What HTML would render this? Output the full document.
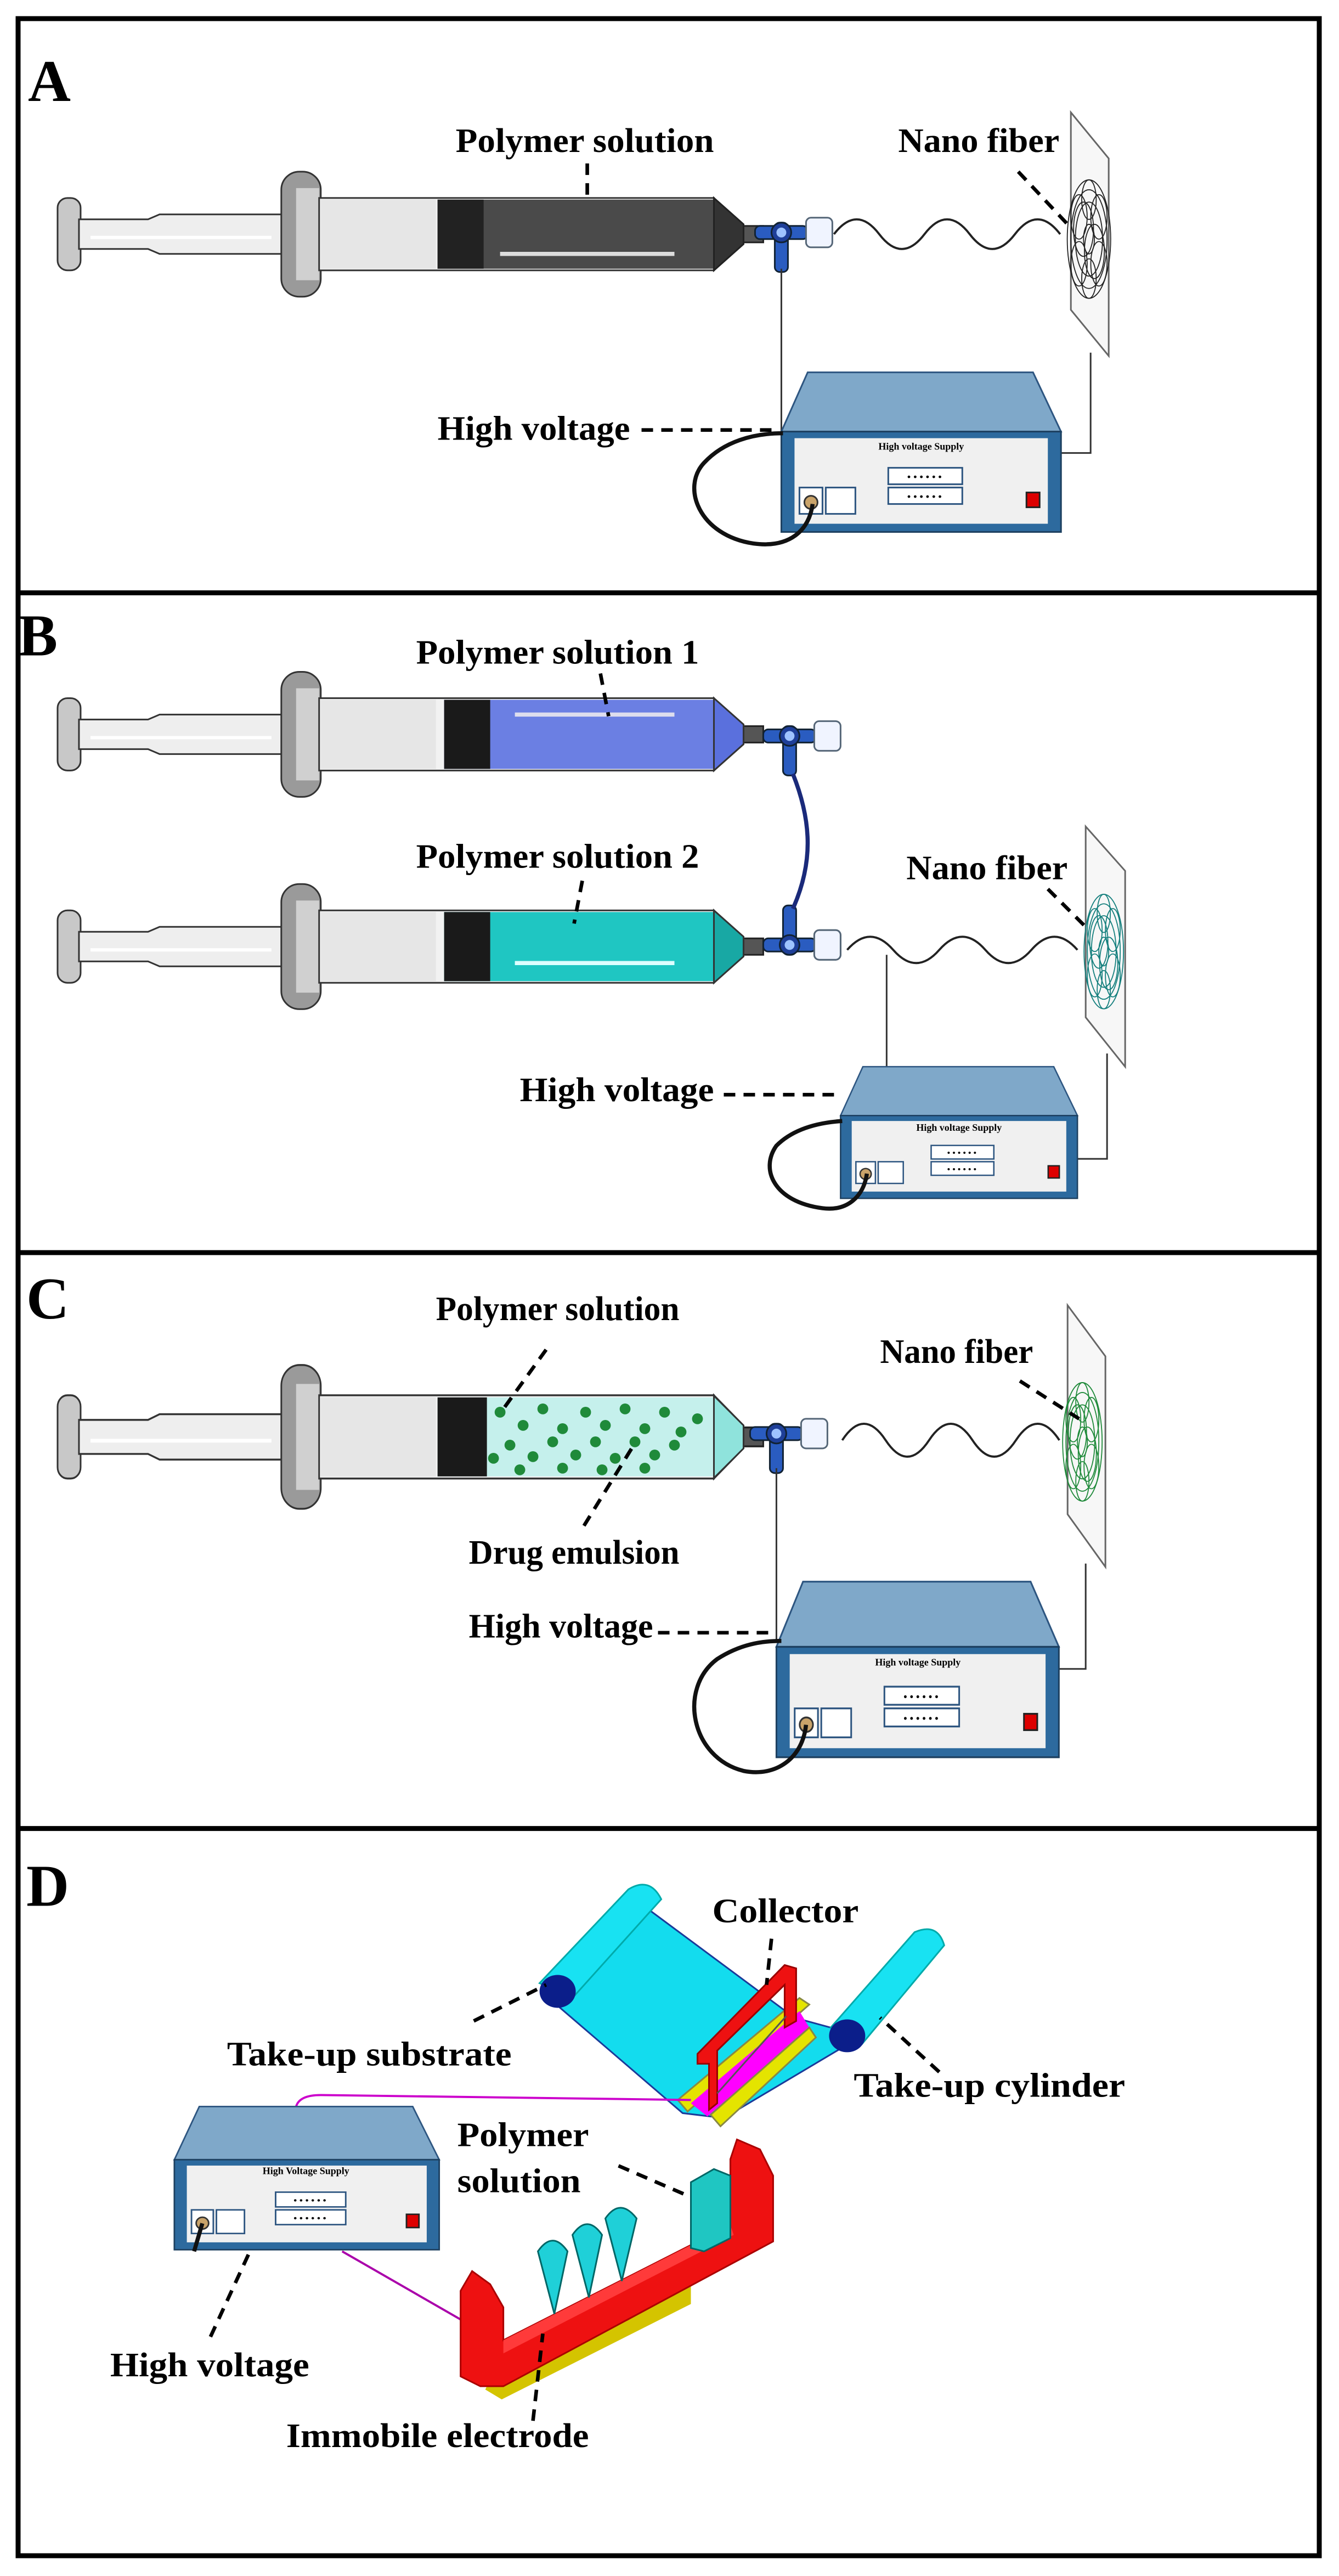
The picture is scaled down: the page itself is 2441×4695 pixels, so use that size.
<!DOCTYPE html>
<html><head><meta charset="utf-8">
<style>
html,body{margin:0;padding:0;background:#fff;}
svg{display:block;}
.l{font-family:"Liberation Serif",serif;font-weight:bold;font-size:21px;fill:#000;}
.p{font-family:"Liberation Serif",serif;font-weight:bold;font-size:36px;fill:#000;}
.s{font-family:"Liberation Serif",serif;font-weight:bold;font-size:6px;fill:#000;}
.d{stroke:#000;stroke-width:2.2;stroke-dasharray:7,5;fill:none;}
.w{fill:none;stroke:#333;stroke-width:1;}
</style></head><body>
<svg width="2441" height="4695" viewBox="0 0 814 1565" xmlns="http://www.w3.org/2000/svg">
<defs>
<g id="syr">
  <rect x="35" y="-22" width="14" height="44" rx="6" fill="#c8c8c8" stroke="#333"/>
  <path d="M48,-9 L90,-9 L97,-12 L174,-12 L174,12 L97,12 L90,9 L48,9 Z" fill="#eee" stroke="#333"/>
  <line x1="55" y1="2" x2="165" y2="2" stroke="#fff" stroke-width="2"/>
  <rect x="171" y="-38" width="24" height="76" rx="11" fill="#9a9a9a" stroke="#333"/>
  <rect x="180" y="-28" width="14" height="56" fill="#d0d0d0"/>
  <rect x="194" y="-22" width="240" height="44" fill="#f2f2f2" stroke="#333"/>
  <rect x="195" y="-21" width="70" height="42" fill="#e6e6e6"/>
  <path d="M434,-22 L452,-6 L452,6 L434,22 Z" fill="#eee" stroke="#333"/>
  <rect x="452" y="-5" width="12" height="10" fill="#555" stroke="#222"/>
</g>
<g id="conn">
  <rect x="-16" y="-4" width="32" height="8" rx="3" fill="#2a5cc0" stroke="#123"/>
  <rect x="-4" y="-6" width="8" height="30" rx="3" fill="#2a5cc0" stroke="#123"/>
  <circle cx="0" cy="0" r="6" fill="#1e3f99" stroke="#123"/>
  <circle cx="0" cy="0" r="3" fill="#9ec3ff"/>
  <rect x="15" y="-9" width="16" height="18" rx="3" fill="#f0f4ff" stroke="#567"/>
</g>
<g id="ps">
  <path d="M16,0 L153,0 L170,36 L0,36 Z" fill="#7fa8c9" stroke="#2d5580"/>
  <rect x="0" y="36" width="170" height="61" fill="#2d6a9e" stroke="#1d4060"/>
  <rect x="8" y="40" width="154" height="52" fill="#f0f0f0"/>
  <rect x="65" y="58" width="45" height="10" fill="#fff" stroke="#2d5580"/>
  <rect x="65" y="70" width="45" height="10" fill="#fff" stroke="#2d5580"/>
  <text x="87" y="65.5" text-anchor="middle" font-size="6" font-family="Liberation Sans,sans-serif">• • • • • •</text>
  <text x="87" y="77.5" text-anchor="middle" font-size="6" font-family="Liberation Sans,sans-serif">• • • • • •</text>
  <rect x="149" y="73" width="8" height="9" fill="#d00" stroke="#222"/>
  <rect x="11" y="70" width="14" height="16" fill="#fff" stroke="#2d5580"/>
  <rect x="27" y="70" width="18" height="16" fill="#fff" stroke="#2d5580"/>
  <circle cx="18" cy="79" r="4" fill="#c9a36a" stroke="#333"/>
</g>
<g id="mesh" fill="none" stroke-width="1.8">
  <circle r="24" vector-effect="non-scaling-stroke"/><circle r="15" vector-effect="non-scaling-stroke"/>
  <circle cx="-11" cy="-9" r="9" vector-effect="non-scaling-stroke"/><circle cx="11" cy="-9" r="9" vector-effect="non-scaling-stroke"/><circle cx="-11" cy="10" r="9" vector-effect="non-scaling-stroke"/><circle cx="11" cy="10" r="9" vector-effect="non-scaling-stroke"/><circle cx="0" cy="-16" r="8" vector-effect="non-scaling-stroke"/><circle cx="0" cy="16" r="8" vector-effect="non-scaling-stroke"/><circle r="6" vector-effect="non-scaling-stroke"/>
  <circle cx="-6" cy="-4" r="11" vector-effect="non-scaling-stroke"/><circle cx="6" cy="5" r="11" vector-effect="non-scaling-stroke"/><circle cx="0" cy="0" r="20" vector-effect="non-scaling-stroke"/>
</g>
</defs>

<!-- frames -->
<rect x="11" y="11" width="791" height="1542" fill="none" stroke="#000" stroke-width="3"/>
<line x1="11" y1="360" x2="802" y2="360" stroke="#000" stroke-width="3"/>
<line x1="11" y1="761" x2="802" y2="761" stroke="#000" stroke-width="3"/>
<line x1="11" y1="1111" x2="802" y2="1111" stroke="#000" stroke-width="3"/>

<!-- ===== A ===== -->
<text class="p" x="17" y="61">A</text>
<use href="#syr" transform="translate(0,142)"/>
<rect x="266" y="121" width="168" height="42" fill="#4a4a4a"/>
<rect x="266" y="121" width="28" height="42" fill="#222"/>
<path d="M434,120 L452,136 L452,148 L434,164 Z" fill="#333" stroke="#222"/>
<line x1="304" y1="154" x2="410" y2="154" stroke="#ddd" stroke-width="2.5"/>
<use href="#conn" transform="translate(475,141)"/>
<path d="M507,142 q13.75,-18 27.5,0 t27.5,0 t27.5,0 t27.5,0 t27.5,0" fill="none" stroke="#222" stroke-width="1.3"/>
<polygon points="651,68 674,96 674,216 651,188" fill="#f7f7f7" stroke="#666"/>
<use href="#mesh" transform="translate(662,145) scale(0.55,1.5)" stroke="#222"/>
<polyline class="w" points="475,163 475,262"/>
<polyline class="w" points="663,214 663,275 645,275"/>
<use href="#ps" transform="translate(475,226)"/>
<text class="s" x="560" y="273" text-anchor="middle">High voltage Supply</text>
<path d="M494,306 C492,322 480,333 458,330 C425,325 414,296 428,281 C440,268 458,263 476,263" fill="none" stroke="#111" stroke-width="2.5"/>
<text class="l" x="277" y="92" textLength="157" lengthAdjust="spacingAndGlyphs">Polymer solution</text>
<line class="d" x1="357" y1="99" x2="357" y2="123"/>
<text class="l" x="546" y="92" textLength="98" lengthAdjust="spacingAndGlyphs">Nano fiber</text>
<line class="d" x1="619" y1="104" x2="649" y2="136"/>
<text class="l" x="266" y="267" textLength="117" lengthAdjust="spacingAndGlyphs">High voltage</text>
<line class="d" x1="390" y1="261" x2="473" y2="261"/>

<!-- ===== B ===== -->
<text class="p" x="11" y="398">B</text>
<use href="#syr" transform="translate(0,446)"/>
<rect x="270" y="425" width="164" height="42" fill="#6b7fe3"/>
<rect x="270" y="425" width="28" height="42" fill="#1a1a1a"/>
<path d="M434,424 L452,440 L452,452 L434,468 Z" fill="#5a70dd" stroke="#333"/>
<line x1="313" y1="434" x2="410" y2="434" stroke="#dde" stroke-width="2.5"/>
<use href="#conn" transform="translate(480,447)"/>
<use href="#syr" transform="translate(0,575)"/>
<rect x="270" y="554" width="164" height="42" fill="#1fc6c2"/>
<rect x="270" y="554" width="28" height="42" fill="#1a1a1a"/>
<path d="M434,553 L452,569 L452,581 L434,597 Z" fill="#18a8a4" stroke="#333"/>
<line x1="313" y1="585" x2="410" y2="585" stroke="#dff" stroke-width="2.5"/>
<use href="#conn" transform="translate(480,574) scale(1,-1)"/>
<rect x="495" y="565" width="16" height="18" rx="3" fill="#f0f4ff" stroke="#567"/>
<path d="M482,470 C494,500 494,525 482,552" fill="none" stroke="#1a2a7a" stroke-width="2.5"/>
<path d="M515,577 q14,-16 28,0 t28,0 t28,0 t28,0 t28,0" fill="none" stroke="#222" stroke-width="1.3"/>
<polygon points="660,502 684,529 684,648 660,618" fill="#f7f7f7" stroke="#666"/>
<use href="#mesh" transform="translate(671,578) scale(0.5,1.45)" stroke="#147f7d"/>
<polyline class="w" points="539,580 539,650"/>
<polyline class="w" points="673,640 673,704 655,704"/>
<use href="#ps" transform="translate(511,648) scale(0.847,0.825)"/>
<text class="s" x="583" y="687" text-anchor="middle">High voltage Supply</text>
<path d="M527,713 C525,727 515,736 500,734 C470,730 462,710 472,696 C482,686 497,682 512,681" fill="none" stroke="#111" stroke-width="2.5"/>
<text class="l" x="253" y="403" textLength="172" lengthAdjust="spacingAndGlyphs">Polymer solution 1</text>
<line class="d" x1="365" y1="409" x2="370" y2="435"/>
<text class="l" x="253" y="527" textLength="172" lengthAdjust="spacingAndGlyphs">Polymer solution 2</text>
<line class="d" x1="354" y1="535" x2="349" y2="561"/>
<text class="l" x="551" y="534" textLength="98" lengthAdjust="spacingAndGlyphs">Nano fiber</text>
<line class="d" x1="637" y1="540" x2="660" y2="563"/>
<text class="l" x="316" y="669" textLength="118" lengthAdjust="spacingAndGlyphs">High voltage</text>
<line class="d" x1="440" y1="665" x2="508" y2="665"/>

<!-- ===== C ===== -->
<text class="p" x="16" y="801">C</text>
<use href="#syr" transform="translate(0,873) scale(1,1.15)"/>
<rect x="266" y="849" width="168" height="48" fill="#c5f0ec"/>
<rect x="266" y="849" width="30" height="48" fill="#1a1a1a"/>
<path d="M434,848 L452,866 L452,880 L434,898 Z" fill="#8fe3dc" stroke="#333"/>
<g fill="#1f8a3a">
<circle cx="304" cy="858" r="3.3"/><circle cx="318" cy="866" r="3.3"/><circle cx="330" cy="856" r="3.3"/><circle cx="342" cy="868" r="3.3"/><circle cx="356" cy="858" r="3.3"/><circle cx="368" cy="866" r="3.3"/><circle cx="380" cy="856" r="3.3"/><circle cx="392" cy="868" r="3.3"/><circle cx="404" cy="858" r="3.3"/><circle cx="414" cy="870" r="3.3"/>
<circle cx="310" cy="878" r="3.3"/><circle cx="324" cy="885" r="3.3"/><circle cx="336" cy="876" r="3.3"/><circle cx="350" cy="884" r="3.3"/><circle cx="362" cy="876" r="3.3"/><circle cx="374" cy="886" r="3.3"/><circle cx="386" cy="876" r="3.3"/><circle cx="398" cy="884" r="3.3"/><circle cx="410" cy="878" r="3.3"/>
<circle cx="316" cy="893" r="3.3"/><circle cx="342" cy="892" r="3.3"/><circle cx="366" cy="893" r="3.3"/><circle cx="392" cy="892" r="3.3"/><circle cx="300" cy="886" r="3.3"/><circle cx="424" cy="862" r="3.3"/>
</g>
<use href="#conn" transform="translate(472,871)"/>
<path d="M512,875 q13.2,-20 26.4,0 t26.4,0 t26.4,0 t26.4,0 t26.4,0" fill="none" stroke="#222" stroke-width="1.3"/>
<polygon points="649,793 672,824 672,952 649,920" fill="#f7f7f7" stroke="#666"/>
<use href="#mesh" transform="translate(658,876) scale(0.5,1.5)" stroke="#1f8a3a"/>
<polyline class="w" points="472,892 472,998"/>
<polyline class="w" points="660,950 660,1014 644,1014"/>
<use href="#ps" transform="translate(472,961) scale(1.01,1.1)"/>
<text class="s" x="558" y="1012" text-anchor="middle">High voltage Supply</text>
<path d="M490,1048 C488,1068 472,1080 452,1076 C420,1068 412,1026 436,1008 C450,999 463,997 475,997" fill="none" stroke="#111" stroke-width="2.5"/>
<text class="l" x="265" y="802" textLength="148" lengthAdjust="spacingAndGlyphs">Polymer solution</text>
<line class="d" x1="332" y1="820" x2="306" y2="856"/>
<text class="l" x="535" y="828" textLength="93" lengthAdjust="spacingAndGlyphs">Nano fiber</text>
<line class="d" x1="620" y1="839" x2="656" y2="862"/>
<text class="l" x="285" y="950" textLength="128" lengthAdjust="spacingAndGlyphs">Drug emulsion</text>
<line class="d" x1="355" y1="927" x2="384" y2="880"/>
<text class="l" x="285" y="995" textLength="112" lengthAdjust="spacingAndGlyphs">High voltage</text>
<line class="d" x1="400" y1="992" x2="470" y2="992"/>

<!-- ===== D ===== -->
<text class="p" x="16" y="1158">D</text>
<polygon points="337,1217 394,1160 483,1226 505,1232 514,1243 440,1287 415,1284" fill="#13dcee" stroke="#1a3a9a"/>
<path d="M328,1205 L382,1148 Q395,1140 402,1154 L348,1214 Z" fill="#18e2f2" stroke="#0aa"/>
<ellipse cx="339" cy="1210" rx="11" ry="10" fill="#0b1e8a"/>
<path d="M505,1232 L556,1174 Q570,1168 574,1182 L524,1242 Z" fill="#18e2f2" stroke="#0aa"/>
<ellipse cx="515" cy="1237" rx="11" ry="10" fill="#0b1e8a"/>
<polygon points="412,1276 486,1214 492,1218 418,1283" fill="#e4e400" stroke="#884"/>
<polygon points="420,1278 486,1222 492,1232 430,1286" fill="#ff00ff"/>
<polygon points="432,1285 492,1232 496,1238 438,1292" fill="#e4e400" stroke="#884"/>
<path d="M424,1254 L431,1254 L431,1282 L436,1278 L436,1246 L477,1206 L477,1232 L484,1228 L484,1196 L477,1194 L424,1248 Z" fill="#ee1111" stroke="#900"/>
<line x1="436" y1="1272" x2="478" y2="1225" stroke="#555" stroke-width="1"/>
<path d="M180,1280 Q182,1273 195,1273 L420,1276" fill="none" stroke="#c0c" stroke-width="1.3"/>
<path d="M208,1368 L281,1410" fill="none" stroke="#a0a" stroke-width="1.3"/>
<use href="#ps" transform="translate(106,1280) scale(0.947,0.897)"/>
<text class="s" x="186" y="1321" text-anchor="middle">High Voltage Supply</text>
<path d="M123,1351 L118,1368" stroke="#111" stroke-width="2.5"/>
<polygon points="295,1452 305,1458 420,1400 420,1375 305,1432" fill="#d4c400"/>
<polygon points="280,1392 287,1380 298,1388 306,1402 306,1422 444,1352 444,1312 448,1300 462,1306 470,1322 470,1362 306,1450 292,1450 280,1444" fill="#ee1111" stroke="#a00"/>
<polygon points="306,1422 444,1352 446,1358 306,1430" fill="#ff3a3a"/>
<polygon points="420,1326 434,1318 444,1322 444,1360 428,1368 420,1366" fill="#1fc6c2" stroke="#066"/>
<path d="M327,1368 Q336,1355 345,1368 L337,1406 Z" fill="#1fd0d8" stroke="#066"/>
<path d="M348,1358 Q357,1345 366,1358 L358,1396 Z" fill="#1fd0d8" stroke="#066"/>
<path d="M368,1348 Q377,1335 387,1348 L378,1386 Z" fill="#1fd0d8" stroke="#066"/>
<text class="l" x="433" y="1168" textLength="89" lengthAdjust="spacingAndGlyphs">Collector</text>
<line class="d" x1="469" y1="1178" x2="466" y2="1206"/>
<text class="l" x="138" y="1255" textLength="173" lengthAdjust="spacingAndGlyphs">Take-up substrate</text>
<line class="d" x1="288" y1="1228" x2="332" y2="1206"/>
<text class="l" x="519" y="1274" textLength="165" lengthAdjust="spacingAndGlyphs">Take-up cylinder</text>
<line class="d" x1="571" y1="1259" x2="535" y2="1226"/>
<text class="l" x="278" y="1304" textLength="80" lengthAdjust="spacingAndGlyphs">Polymer</text>
<text class="l" x="278" y="1332" textLength="75" lengthAdjust="spacingAndGlyphs">solution</text>
<line class="d" x1="376" y1="1316" x2="420" y2="1335"/>
<text class="l" x="67" y="1444" textLength="121" lengthAdjust="spacingAndGlyphs">High voltage</text>
<line class="d" x1="151" y1="1370" x2="127" y2="1422"/>
<text class="l" x="174" y="1487" textLength="184" lengthAdjust="spacingAndGlyphs">Immobile electrode</text>
<line class="d" x1="324" y1="1471" x2="330" y2="1418"/>
</svg>
</body></html>
